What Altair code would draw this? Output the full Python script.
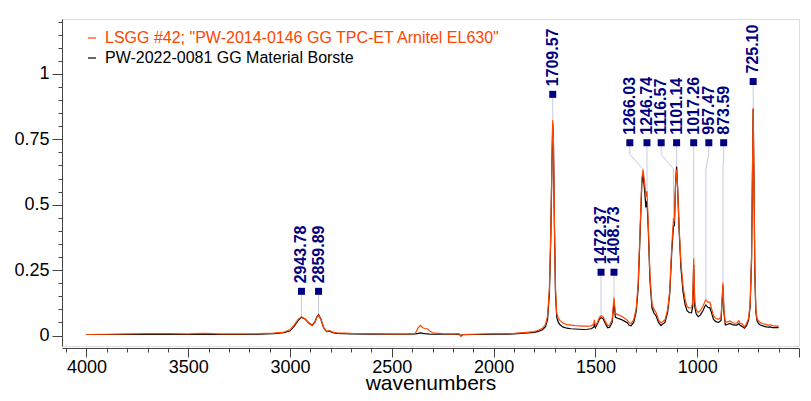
import altair as alt
import pandas as pd

# ---------------- data ----------------
series_names = ['LSGG #42; "PW-2014-0146 GG TPC-ET Arnitel EL630"', "PW-2022-0081 GG Material Borste"]
series_colors = ["#FF4500", "#000000"]

wavenumbers = [4000, 3900, 3800, 3700, 3600, 3500, 3420, 3350, 3250, 3150, 3080, 3030, 3000, 2980, 2960,
               2943.78, 2925, 2905, 2890, 2878, 2868, 2859.89, 2848, 2835, 2820, 2805, 2795, 2770, 2700,
               2600, 2500, 2420, 2385, 2370, 2360, 2348, 2338, 2325, 2310, 2295, 2250, 2200, 2170, 2160,
               2150, 2100, 2050, 2000, 1950, 1900, 1850, 1800, 1780, 1760, 1745, 1735, 1726, 1719, 1713,
               1709.57, 1706, 1701, 1696, 1690, 1683, 1675, 1660, 1640, 1620, 1600, 1580, 1560, 1540, 1520,
               1508, 1505, 1500, 1490, 1480, 1472.37, 1462, 1452, 1440, 1430, 1418, 1408.73, 1402, 1390,
               1375, 1360, 1345, 1335, 1325, 1312, 1300, 1290, 1280, 1272, 1266.03, 1258, 1252, 1246.74,
               1240, 1232, 1222, 1212, 1202, 1190, 1178, 1168, 1158, 1145, 1135, 1125, 1116.57, 1112, 1106,
               1101.14, 1096, 1088, 1080, 1070, 1060, 1050, 1040, 1028, 1022, 1017.26, 1012, 1005, 995, 985,
               972, 962, 957.47, 948, 938, 930, 920, 908, 895, 883, 877, 873.59, 869, 862, 850, 840, 828,
               815, 805, 796, 790, 780, 768, 758, 748, 740, 733, 729, 725.1, 721, 717, 712, 706, 698, 690,
               680, 670, 660, 650, 640, 630, 620, 610, 600]

arnitel = [0.004, 0.005, 0.006, 0.007, 0.007, 0.006, 0.008, 0.006, 0.006, 0.007, 0.009, 0.013, 0.022, 0.040, 0.062,
           0.072, 0.063, 0.045, 0.038, 0.050, 0.070, 0.077, 0.060, 0.030, 0.016, 0.019, 0.014, 0.010, 0.008,
           0.007, 0.006, 0.006, 0.008, 0.030, 0.039, 0.030, 0.027, 0.026, 0.015, 0.009, 0.007, 0.006, 0.007, -0.004,
           0.004, 0.005, 0.006, 0.007, 0.007, 0.008, 0.011, 0.015, 0.020, 0.028, 0.042, 0.075, 0.180, 0.400, 0.700,
           0.824, 0.740, 0.420, 0.180, 0.085, 0.068, 0.058, 0.048, 0.042, 0.040, 0.038, 0.037, 0.036, 0.036, 0.037,
           0.045, 0.060, 0.038, 0.050, 0.070, 0.076, 0.072, 0.055, 0.038, 0.040, 0.060, 0.145, 0.085, 0.080,
           0.075, 0.068, 0.060, 0.050, 0.046, 0.060, 0.100, 0.200, 0.420, 0.600, 0.634, 0.580, 0.530, 0.552,
           0.420, 0.230, 0.120, 0.100, 0.088, 0.060, 0.048, 0.055, 0.060, 0.100, 0.170, 0.340, 0.445, 0.440, 0.580,
           0.634, 0.560, 0.400, 0.280, 0.190, 0.140, 0.112, 0.105, 0.106, 0.130, 0.295, 0.130, 0.100, 0.088, 0.095,
           0.112, 0.130, 0.136, 0.128, 0.128, 0.105, 0.075, 0.065, 0.062, 0.070, 0.150, 0.203, 0.100, 0.050, 0.052, 0.056, 0.050,
           0.047, 0.048, 0.056, 0.048, 0.045, 0.033, 0.045, 0.065, 0.120, 0.300, 0.600, 0.871, 0.600, 0.260, 0.100, 0.065, 0.055, 0.050,
           0.046, 0.044, 0.042, 0.040, 0.041, 0.038, 0.037, 0.036, 0.036]

borste = [0.004, 0.004, 0.004, 0.004, 0.004, 0.004, 0.005, 0.004, 0.004, 0.005, 0.007, 0.011, 0.018, 0.035, 0.058,
          0.070, 0.062, 0.046, 0.040, 0.052, 0.072, 0.080, 0.062, 0.030, 0.015, 0.017, 0.012, 0.008, 0.006,
          0.005, 0.005, 0.005, 0.006, 0.008, 0.010, 0.008, 0.007, 0.006, 0.005, 0.005, 0.005, 0.005, 0.004, 0.001,
          0.003, 0.004, 0.004, 0.005, 0.005, 0.006, 0.009, 0.012, 0.016, 0.022, 0.034, 0.062, 0.160, 0.380, 0.680,
          0.810, 0.720, 0.400, 0.160, 0.070, 0.052, 0.042, 0.033, 0.028, 0.026, 0.025, 0.024, 0.023, 0.024, 0.026,
          0.032, 0.045, 0.030, 0.045, 0.063, 0.068, 0.064, 0.047, 0.030, 0.032, 0.050, 0.128, 0.070, 0.066,
          0.062, 0.056, 0.050, 0.040, 0.037, 0.050, 0.090, 0.180, 0.400, 0.580, 0.620, 0.550, 0.490, 0.515,
          0.400, 0.210, 0.105, 0.085, 0.075, 0.050, 0.038, 0.045, 0.050, 0.090, 0.160, 0.320, 0.418, 0.420, 0.590,
          0.646, 0.560, 0.390, 0.260, 0.170, 0.120, 0.095, 0.088, 0.087, 0.110, 0.270, 0.110, 0.083, 0.072, 0.078,
          0.095, 0.112, 0.117, 0.108, 0.106, 0.088, 0.062, 0.053, 0.050, 0.058, 0.140, 0.190, 0.090, 0.040, 0.043, 0.046, 0.042,
          0.040, 0.040, 0.046, 0.040, 0.035, 0.028, 0.038, 0.058, 0.110, 0.290, 0.590, 0.865, 0.580, 0.240, 0.090, 0.055, 0.045, 0.040,
          0.038, 0.035, 0.033, 0.032, 0.033, 0.030, 0.030, 0.031, 0.030]

# peak annotations
peak_wn = [2943.78, 2859.89, 1709.57, 1472.37, 1408.73, 1266.03, 1246.74, 1116.57, 1101.14, 1017.26, 957.47, 873.59, 725.10]
peak_text = ["2943.78", "2859.89", "1709.57", "1472.37", "1408.73", "1266.03", "1246.74", "1116.57", "1101.14",
             "1017.26", "957.47", "873.59", "725.10"]
label_wn = [2943.78, 2859.89, 1709.57, 1472.37, 1408.73, 1331.0, 1246.74, 1177.0, 1101.14, 1017.26, 943.0, 870.0, 725.10]
label_y = [0.169, 0.169, 0.922, 0.242, 0.242, 0.737, 0.737, 0.737, 0.737, 0.737, 0.737, 0.737, 0.971]
peak_top = [0.072, 0.080, 0.824, 0.076, 0.145, 0.634, 0.552, 0.445, 0.646, 0.295, 0.136, 0.203, 0.871]

# axis ticks
x_major = [500, 1000, 1500, 2000, 2500, 3000, 3500, 4000]
x_minor = [600, 700, 800, 900, 1100, 1200, 1300, 1400, 1600, 1700, 1800, 1900,
           2100, 2200, 2300, 2400, 2600, 2700, 2800, 2900, 3100, 3200, 3300, 3400,
           3600, 3700, 3800, 3900, 4100]
y_major = [0, 0.25, 0.5, 0.75, 1]
y_minor = [0.05, 0.1, 0.15, 0.2, 0.3, 0.35, 0.4, 0.45, 0.55, 0.6, 0.65, 0.7, 0.8, 0.85, 0.9, 0.95,
           1.05, 1.1, 1.15, 1.2]

# ---------------- tables ----------------
spec_rows = []
for w, a, b in zip(wavenumbers, arnitel, borste):
    spec_rows.append({"wn": w, "abs": b, "series": series_names[1]})
for w, a, b in zip(wavenumbers, arnitel, borste):
    spec_rows.append({"wn": w, "abs": a, "series": series_names[0]})
spec = pd.DataFrame(spec_rows)

labels_df = pd.DataFrame({"wn": label_wn, "y": label_y, "text": peak_text})

lead_rows = []
for i, (pw, lw, ly, pt) in enumerate(zip(peak_wn, label_wn, label_y, peak_top)):
    knee = max(pt, ly - 0.1)
    pts = [(lw, ly), (lw, ly - 0.045), (pw, knee), (pw, pt)]
    for j, (xx, yy) in enumerate(pts):
        lead_rows.append({"peak": i, "step": j, "wn": xx, "y": yy})
lead = pd.DataFrame(lead_rows)

FONT = "Liberation Sans"
AX = "#444444"
xscale = alt.Scale(domain=[500, 4120], reverse=True, nice=False, zero=False)
yscale = alt.Scale(domain=[-0.04, 1.21], nice=False, zero=False)

x_axis = alt.Axis(
    orient="bottom", title="wavenumbers", values=x_major, format="d",
    labelExpr="datum.value >= 1000 ? datum.label : ''",
    tickSize=9, grid=False, offset=2, domainColor=AX, tickColor=AX, labelColor="#000000",
    labelFont=FONT, labelFontSize=18, labelPadding=1, labelOverlap=False, labelFlush=False,
    titleFont=FONT, titleFontSize=21, titleFontWeight="normal", titleColor="#000000",
    titleBaseline="alphabetic", titleY=41,
)
y_axis = alt.Axis(
    orient="left", title=None, values=y_major, format="~g",
    tickSize=10, grid=False, domainColor=AX, tickColor=AX, labelColor="#000000",
    labelFont=FONT, labelFontSize=18, labelPadding=3, labelOverlap=False, labelFlush=False,
)
x_minor_axis = alt.Axis(
    orient="bottom", title=None, values=x_minor, labels=False, domain=False, grid=False,
    tickSize=4, tickColor=AX, offset=2,
)
y_minor_axis = alt.Axis(
    orient="left", title=None, values=y_minor, labels=False, domain=False, grid=False,
    tickSize=4, tickColor=AX,
)

color_scale = alt.Scale(domain=series_names, range=series_colors)
legend = alt.Legend(
    title=None, orient="none", legendX=22, legendY=11, symbolType="stroke", symbolSize=64,
    symbolStrokeWidth=1.2, labelFont=FONT, labelFontSize=16, labelOffset=5, rowPadding=4, padding=0,
    labelLimit=600,
    labelColor={"expr": "indexof(datum.label, 'LSGG') == 0 ? '#FF4500' : '#000000'"},
)

base = alt.Chart(spec)
black_line = base.transform_filter(alt.datum.series == series_names[1]).mark_line(strokeWidth=1.2).encode(
    x=alt.X("wn:Q", scale=xscale, axis=x_axis),
    y=alt.Y("abs:Q", scale=yscale, axis=y_axis),
    color=alt.Color("series:N", scale=color_scale, legend=legend),
    order=alt.Order("wn:Q", sort="descending"),
)
orange_line = base.transform_filter(alt.datum.series == series_names[0]).mark_line(strokeWidth=1.2).encode(
    x=alt.X("wn:Q", scale=xscale, axis=None),
    y=alt.Y("abs:Q", scale=yscale, axis=None),
    color=alt.Color("series:N", scale=color_scale, legend=legend),
    order=alt.Order("wn:Q", sort="descending"),
)

minor_ticks = alt.Chart(labels_df).mark_point(opacity=0).encode(
    x=alt.X("wn:Q", scale=xscale, axis=x_minor_axis),
    y=alt.Y("y:Q", scale=yscale, axis=y_minor_axis),
)

leaders = alt.Chart(lead).mark_line(color="#c8c8e4", strokeWidth=1).encode(
    x=alt.X("wn:Q", scale=xscale, axis=None),
    y=alt.Y("y:Q", scale=yscale, axis=None),
    detail="peak:N",
    order="step:Q",
)

markers = alt.Chart(labels_df).mark_point(shape="square", filled=True, size=49, color="#000080", opacity=1).encode(
    x=alt.X("wn:Q", scale=xscale, axis=None),
    y=alt.Y("y:Q", scale=yscale, axis=None),
)

texts = alt.Chart(labels_df).mark_text(
    angle=270, align="left", baseline="middle", dx=8, font=FONT, fontSize=16, fontWeight="bold", color="#000080"
).encode(
    x=alt.X("wn:Q", scale=xscale, axis=None),
    y=alt.Y("y:Q", scale=yscale, axis=None),
    text="text:N",
)

chart = alt.layer(minor_ticks, leaders, black_line, orange_line, markers, texts).resolve_axis(
    x="independent", y="independent"
).properties(
    width=737, height=327, autosize="none",
    padding={"left": 54, "top": 11, "right": 3, "bottom": 47},
).configure_view(stroke=None).configure(background="white")

chart.save("out.html", embed_options={"renderer": "svg", "actions": False})
